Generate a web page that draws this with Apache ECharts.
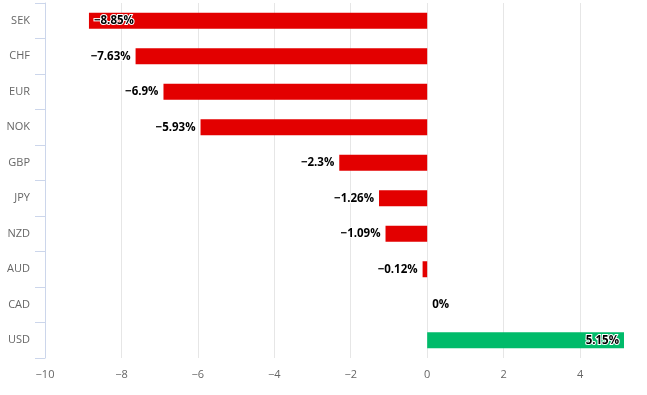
<!DOCTYPE html>
<html><head><meta charset="utf-8">
<script src="https://cdn.jsdelivr.net/npm/echarts@6/dist/echarts.min.js"></script>
<style>html,body{margin:0;padding:0;background:#fff}#c{width:647px;height:395px}</style>
</head><body><div id="c"></div>
<script>
var categories = ['SEK','CHF','EUR','NOK','GBP','JPY','NZD','AUD','CAD','USD'];
var values = [-8.85,-7.63,-6.9,-5.93,-2.3,-1.26,-1.09,-0.12,0,5.15];
var labelPositions = ['insideLeft','left','left','left','left','left','left','left','right','insideRight'];

function fmt(v){ return (v < 0 ? '\u2212' + Math.abs(v) : String(v)) + '%'; }

var data = values.map(function(v,i){
  return {
    value: v,
    itemStyle: { color: v > 0 ? '#00bb6a' : '#e30000' },
    label: { position: labelPositions[i] }
  };
});

var chart = echarts.init(document.getElementById('c'), null, {renderer:'canvas'});
chart.setOption({
  animation: false,
  textStyle: { fontFamily: 'Open Sans' },
  grid: { left: 45, right: 23, top: 3, bottom: 37, containLabel: false },
  xAxis: {
    type: 'value', min: -10, max: Math.max.apply(null, values), interval: 2,
    axisLine: { show: false }, axisTick: { show: false },
    axisLabel: { color: '#666', fontSize: 11, margin: 11, showMaxLabel: false,
      formatter: function(v){ return v < 0 ? '\u2212' + Math.abs(v) : String(v); } },
    splitLine: { show: true, showMaxLine: false, lineStyle: { color: '#e6e6e6' } }
  },
  yAxis: {
    type: 'category', data: categories, inverse: true,
    axisLine: { show: true, onZero: false, lineStyle: { color: '#ccd6eb', width: 1 } },
    axisTick: { show: true, length: 10, lineStyle: { color: '#ccd6eb', width: 1 } },
    axisLabel: { color: '#666', fontSize: 11, margin: 15, padding: [4, 0, 0, 0] },
    splitLine: { show: false }
  },
  series: [{
    type: 'bar', data: data, barWidth: 16,
    label: {
      show: true, distance: 5, fontSize: 11.5, fontWeight: 'bold', color: '#000',
      textBorderColor: '#fff', textBorderWidth: 2, padding: [3, 0, 0, 0],
      formatter: function(p){ return fmt(p.value); }
    }
  }]
});
</script></body></html>
